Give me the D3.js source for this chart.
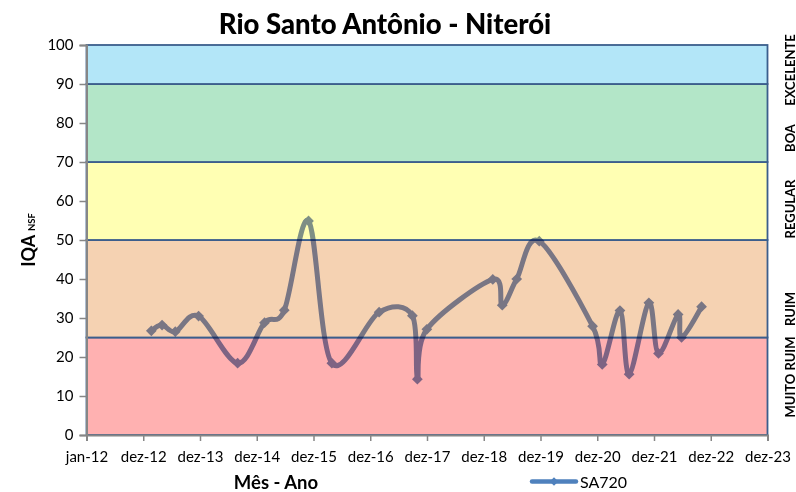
<!DOCTYPE html>
<html>
<head>
<meta charset="utf-8">
<script src="https://cdn.jsdelivr.net/npm/d3@7"></script>
<style>
  html, body { margin: 0; padding: 0; background: #ffffff; }
  svg { display: block; font-family: Lato, "Open Sans", sans-serif; }
</style>
</head>
<body>
<svg id="chart" width="796" height="492"></svg>
<script>
// ---- data ----
const sampleDates = [
  "2013-02-21","2013-05-01","2013-07-25","2013-12-22","2014-08-30",
  "2015-02-19","2015-06-26","2015-11-29","2016-04-27","2017-02-25",
  "2017-09-27","2017-10-29","2017-12-29","2019-02-26","2019-04-28",
  "2019-07-30","2019-12-22","2020-11-29","2021-01-30","2021-05-24",
  "2021-07-22","2021-11-26","2022-01-27","2022-06-02","2022-06-24",
  "2022-10-31"
];
const sa720 = [
  26.7, 28.2, 26.5, 30.5, 18.4,
  28.8, 32.0, 54.9, 18.4, 31.5,
  30.6, 14.3, 27.1, 39.9, 33.3,
  40.0, 49.7, 27.9, 18.1, 31.9,
  15.6, 33.9, 20.9, 30.9, 25.0,
  32.9
];
const seriesName = "SA720";
const xTickLabels = ["jan-12","dez-12","dez-13","dez-14","dez-15","dez-16","dez-17","dez-18","dez-19","dez-20","dez-21","dez-22","dez-23"];
const yTicks = [0,10,20,30,40,50,60,70,80,90,100];
const bandLimits = [0, 25, 50, 70, 90, 100];
const bandNames = ["MUITO RUIM", "RUIM", "REGULAR", "BOA", "EXCELENTE"];
const bandColors = ["#FFB1B1", "#F5D2B2", "#FFFFB3", "#B3E6C8", "#B3E6F8"];
const bandLabelCenters = [377, 309, 209, 138, 70];

// ---- layout ----
const svg = d3.select("#chart");
const plotLeft = 86.5, plotRight = 767.5, plotTop = 45, plotBottom = 435;
const DAY = 86400000;
const start = Date.UTC(2012, 0, 1);
const end = start + 12 * 365 * DAY;
const x = d3.scaleUtc().domain([new Date(start), new Date(end)]).range([plotLeft, plotRight]);
const y = d3.scaleLinear().domain([0, 100]).range([plotBottom, plotTop]);
const tickDates = xTickLabels.map((_, i) => new Date(start + i * 365 * DAY));

// bands
svg.append("g").selectAll("rect")
  .data(bandNames.map((n, i) => ({ lo: bandLimits[i], hi: bandLimits[i + 1], c: bandColors[i] })))
  .join("rect")
  .attr("x", plotLeft)
  .attr("width", plotRight - plotLeft)
  .attr("y", d => y(d.hi))
  .attr("height", d => y(d.lo) - y(d.hi))
  .attr("fill", d => d.c)
  .attr("stroke", "#3B5E8C")
  .attr("stroke-width", 1.8);

// axes
const yAxis = svg.append("g").attr("transform", `translate(${plotLeft},0)`)
  .call(d3.axisLeft(y).tickValues(yTicks).tickSize(7).tickPadding(6));
const xAxis = svg.append("g").attr("transform", `translate(0,${plotBottom})`)
  .call(d3.axisBottom(x).tickValues(tickDates).tickSize(6).tickPadding(10)
    .tickFormat((d, i) => xTickLabels[i]));
[yAxis, xAxis].forEach(a => {
  a.select(".domain").attr("stroke", "#868686").attr("stroke-width", 2);
  a.selectAll(".tick line").attr("stroke", "#868686").attr("stroke-width", 1.5);
  a.selectAll("text").attr("fill", "#000").style("font-size", "15px")
    .style("font-family", "Lato, 'Open Sans', sans-serif");
});

// series
const pts = sampleDates.map((d, i) => ({ date: new Date(d + "T00:00:00Z"), v: sa720[i] }));
const g = svg.append("g").style("mix-blend-mode", "multiply");
const line = d3.line().x(d => x(d.date)).y(d => y(d.v)).curve(d3.curveCardinal.tension(0));
g.append("path").datum(pts)
  .attr("d", line)
  .attr("fill", "none")
  .attr("stroke", "#7E8FBD")
  .attr("stroke-width", 5)
  .attr("stroke-linejoin", "round");
g.selectAll("rect.m").data(pts).join("rect")
  .attr("class", "m")
  .attr("x", -3.8).attr("y", -3.8).attr("width", 7.6).attr("height", 7.6)
  .attr("transform", d => `translate(${x(d.date)},${y(d.v)}) rotate(45)`)
  .attr("fill", "#7E8FBD");

// title
svg.append("text")
  .attr("x", 385).attr("y", 34)
  .attr("text-anchor", "middle")
  .style("font-size", "27.5px").style("font-weight", "900")
  .text("Rio Santo Antônio - Niterói");

// y axis title
const yt = svg.append("text")
  .attr("transform", "translate(35,240) rotate(-90)")
  .attr("text-anchor", "middle")
  .style("font-weight", "bold");
yt.append("tspan").style("font-size", "18px").text("IQA ");
yt.append("tspan").style("font-size", "9.5px").text("NSF");

// x axis title
svg.append("text")
  .attr("x", 276).attr("y", 489)
  .attr("text-anchor", "middle")
  .style("font-size", "18.5px").style("font-weight", "bold")
  .text("Mês - Ano");

// band names on the right
svg.append("g").selectAll("text").data(bandNames).join("text")
  .attr("transform", (d, i) => `translate(794.5,${bandLabelCenters[i]}) rotate(-90)`)
  .attr("text-anchor", "middle")
  .style("font-size", "13px").style("font-weight", "bold")
  .text(d => d);

// legend
const lg = svg.append("g").attr("transform", "translate(532,481.5)");
lg.append("line").attr("x1", 0).attr("x2", 44).attr("y1", 0).attr("y2", 0)
  .attr("stroke", "#4F81BD").attr("stroke-width", 4.5).attr("stroke-linecap", "round");
lg.append("rect").attr("x", -3).attr("y", -3).attr("width", 6).attr("height", 6)
  .attr("transform", "translate(22,0) rotate(45)").attr("fill", "#4F81BD");
lg.append("text").attr("x", 48).attr("y", 6)
  .style("font-size", "16px").text(seriesName);
</script>
</body>
</html>
